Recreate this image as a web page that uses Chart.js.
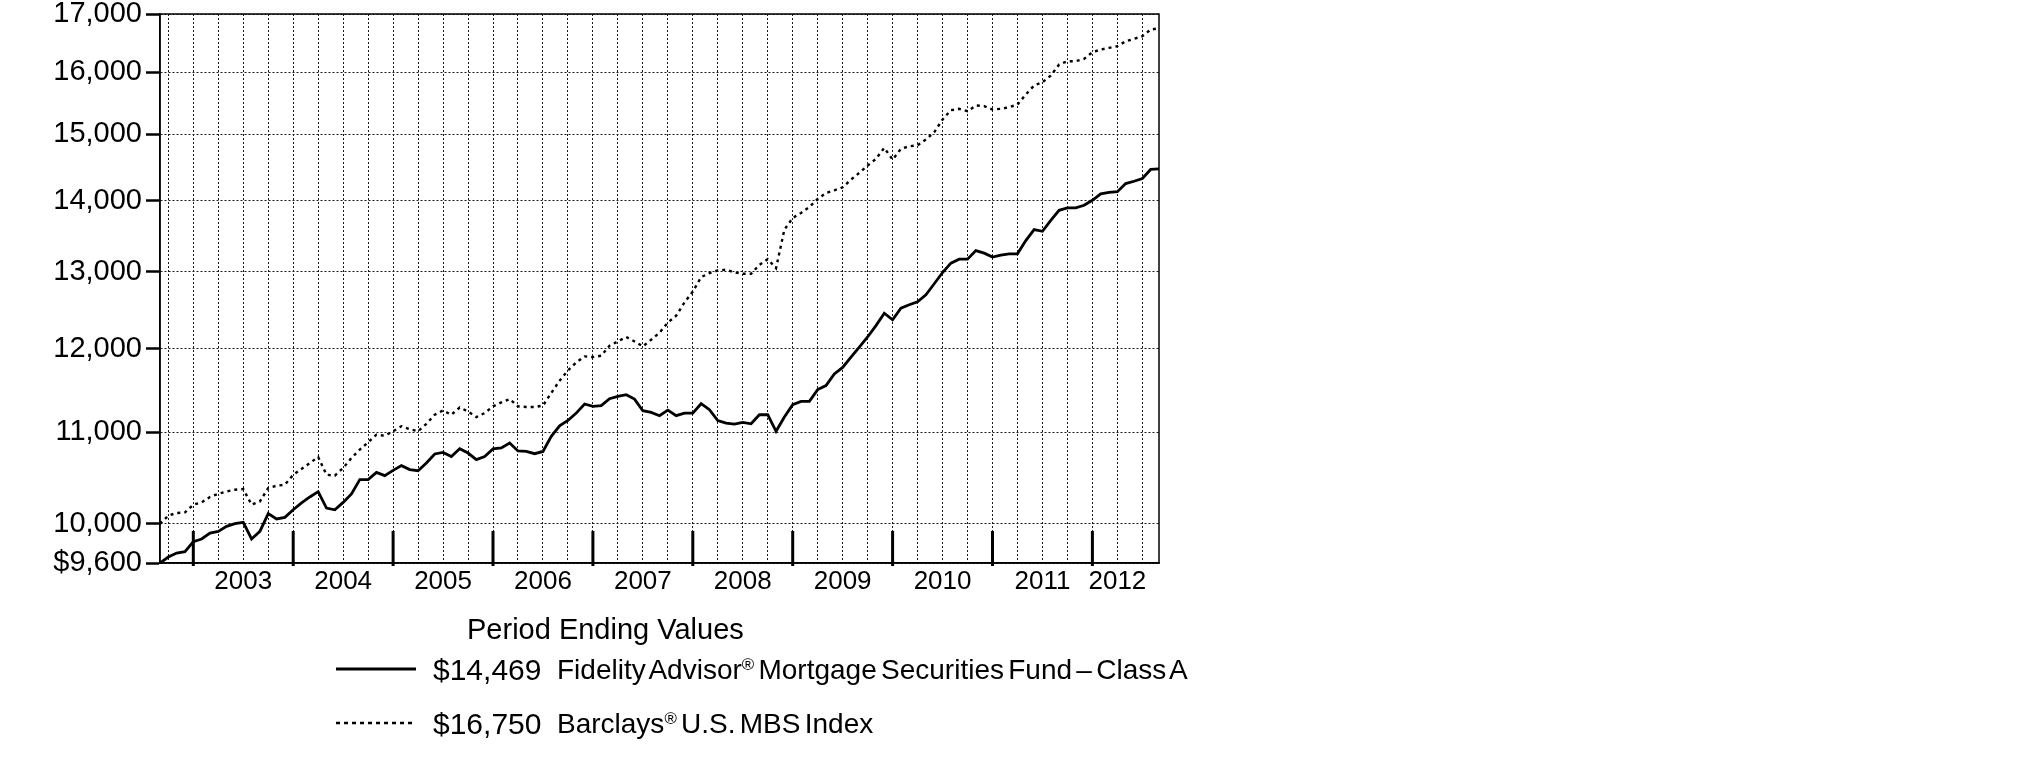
<!DOCTYPE html>
<html>
<head>
<meta charset="utf-8">
<script src="https://cdn.jsdelivr.net/npm/chart.js@4.4.1/dist/chart.umd.min.js"></script>
<style>
  html, body { margin: 0; padding: 0; background: #fff; }
  #wrap { position: relative; width: 2025px; height: 773px; }
  #chart { position: absolute; left: 0; top: 0; }
  #keys { position: absolute; left: 0; top: 0; }
  .lbl { position: absolute; font-family: 'Liberation Sans', Arial, sans-serif; color: #000; white-space: nowrap; line-height: 1; }
  .lbl sup { font-size: 60%; vertical-align: 0.55em; }
  .desc { word-spacing: -3.5px; }
</style>
</head>
<body>
<div id="wrap">
  <canvas id="chart" width="2025" height="773"></canvas>
  <svg id="keys" width="2025" height="773">
    <line x1="336" y1="669" x2="416" y2="669" stroke="#000" stroke-width="3"/>
    <line x1="336" y1="723" x2="416" y2="723" stroke="#000" stroke-width="2.5" stroke-dasharray="4 4"/>
  </svg>
  <div class="lbl" style="left:467px;top:614.5px;font-size:29px">Period Ending Values</div>
  <div class="lbl" style="left:433px;top:655px;font-size:30px">$14,469</div>
  <div class="lbl desc" style="left:557px;top:656px;font-size:28px">Fidelity Advisor<sup>®</sup> Mortgage Securities Fund – Class A</div>
  <div class="lbl" style="left:433px;top:709px;font-size:30px">$16,750</div>
  <div class="lbl desc" style="left:557px;top:710px;font-size:28px">Barclays<sup>®</sup> U.S. MBS Index</div>
</div>
<script>
// monthly values, Aug 2002 .. Aug 2012 (index 0 = start)
const fundValues = [
  9600, 9660, 9700, 9714, 9815, 9843, 9904, 9921, 9973, 10001,
  10015, 9843, 9921, 10106, 10050, 10067, 10147, 10219, 10283, 10340,
  10165, 10147, 10225, 10315, 10470, 10470, 10549, 10514, 10572, 10624,
  10580, 10568, 10653, 10754, 10771, 10726, 10813, 10764, 10691, 10726,
  10810, 10821, 10878, 10787, 10782, 10757, 10782, 10953, 11074, 11135,
  11221, 11328, 11300, 11309, 11390, 11418, 11438, 11386, 11249, 11230,
  11191, 11255, 11191, 11221, 11221, 11331, 11261, 11135, 11105, 11093,
  11112, 11097, 11202, 11202, 11011, 11175, 11320, 11359, 11359, 11499,
  11547, 11688, 11768, 11895, 12020, 12146, 12291, 12451, 12366, 12517,
  12560, 12600, 12692, 12838, 12989, 13117, 13171, 13171, 13289, 13254,
  13199, 13226, 13244, 13244, 13428, 13582, 13559, 13715, 13858, 13893,
  13893, 13931, 14004, 14097, 14120, 14130, 14249, 14284, 14324, 14460,
  14469
];

const indexValues = [
  10000, 10085, 10113, 10120, 10201, 10225, 10283, 10318, 10342, 10361,
  10368, 10201, 10235, 10379, 10404, 10415, 10523, 10587, 10653, 10720,
  10523, 10514, 10598, 10709, 10803, 10885, 10972, 10960, 11011, 11069,
  11034, 11011, 11097, 11202, 11252, 11202, 11287, 11240, 11175, 11221,
  11300, 11346, 11386, 11300, 11293, 11293, 11309, 11459, 11606, 11731,
  11829, 11903, 11895, 11911, 12036, 12090, 12146, 12090, 12028, 12112,
  12200, 12330, 12418, 12590, 12734, 12927, 12981, 13017, 13027, 12990,
  12972, 12972, 13094, 13171, 13048, 13582, 13748, 13820, 13906, 14023,
  14111, 14149, 14194, 14308, 14408, 14518, 14620, 14789, 14609, 14773,
  14814, 14827, 14917, 15031, 15231, 15380, 15402, 15364, 15456, 15446,
  15391, 15402, 15428, 15471, 15633, 15781, 15834, 15945, 16129, 16185,
  16185, 16225, 16337, 16382, 16411, 16440, 16524, 16566, 16611, 16727,
  16750
];

const yearLabels = ['2003', '2004', '2005', '2006', '2007', '2008', '2009', '2010', '2011', '2012'];
const yearLabelMonths = [10, 22, 34, 46, 58, 70, 82, 94, 106, 115];
const yearStartMonths = [4, 16, 28, 40, 52, 64, 76, 88, 100, 112];
const yTicks = [9600, 10000, 11000, 12000, 13000, 14000, 15000, 16000, 17000];

const FONT = "'Liberation Sans', Arial, sans-serif";

// quarterly dotted grid
const gridMonths = [];
for (let m = 1; m < fundValues.length; m += 3) gridMonths.push(m);

const toPoints = vals => vals.map((v, i) => ({ x: i, y: v }));

// solid frame + tall year marks at the bottom
const frame = {
  id: 'frame',
  afterDatasetsDraw(chart) {
    const { ctx, chartArea: a, scales: { x } } = chart;
    ctx.save();
    ctx.strokeStyle = '#000';
    ctx.lineWidth = 1.5;
    ctx.strokeRect(a.left, a.top, a.right - a.left, a.bottom - a.top);
    ctx.lineWidth = 3;
    yearStartMonths.forEach(m => {
      const px = x.getPixelForValue(m);
      ctx.beginPath();
      ctx.moveTo(px, a.bottom + 3);
      ctx.lineTo(px, a.bottom - 32);
      ctx.stroke();
    });
    ctx.restore();
  }
};

const ctx = document.getElementById('chart').getContext('2d');
new Chart(ctx, {
  type: 'line',
  data: {
    datasets: [{
      label: 'Fidelity Advisor® Mortgage Securities Fund – Class A',
      data: toPoints(fundValues),
      borderColor: '#000',
      borderWidth: 2.8,
      pointRadius: 0,
      tension: 0
    }, {
      label: 'Barclays® U.S. MBS Index',
      data: toPoints(indexValues),
      borderColor: '#000',
      borderWidth: 2.4,
      borderDash: [3, 4],
      pointRadius: 0,
      tension: 0
    }]
  },
  options: {
    responsive: false,
    animation: false,
    devicePixelRatio: 1,
    layout: { padding: { left: 0, top: 14, right: 866, bottom: 0 } },
    plugins: {
      legend: { display: false },
      tooltip: { enabled: false }
    },
    scales: {
      x: {
        type: 'linear',
        min: 0,
        max: fundValues.length - 1,
        afterBuildTicks: s => { s.ticks = gridMonths.map(v => ({ value: v })); },
        afterFit: s => { s.height = 210; s.paddingLeft = 0; s.paddingRight = 0; },
        grid: { color: '#1a1a1a', lineWidth: 1, drawTicks: false },
        border: { color: '#000', width: 1.5, dash: [2, 2] },
        ticks: {
          autoSkip: false,
          maxRotation: 0,
          padding: 3,
          color: '#000',
          font: { family: FONT, size: 26 },
          callback: v => {
            const k = yearLabelMonths.indexOf(v);
            return k >= 0 ? yearLabels[k] : '';
          }
        }
      },
      y: {
        type: 'logarithmic',
        min: 9600,
        max: 17000,
        afterBuildTicks: s => { s.ticks = yTicks.map(v => ({ value: v })); },
        afterFit: s => { s.width = 160; s.paddingTop = 0; s.paddingBottom = 0; },
        grid: { color: '#1a1a1a', lineWidth: 1, drawTicks: true, tickLength: 14, tickWidth: 2.5, tickColor: '#000' },
        border: { color: '#000', width: 1.5, dash: [2, 2] },
        ticks: {
          padding: 4,
          color: '#000',
          font: { family: FONT, size: 29 },
          callback: v => v === 9600 ? '$9,600' : v.toLocaleString('en-US')
        }
      }
    }
  },
  plugins: [frame]
});
</script>
</body>
</html>
